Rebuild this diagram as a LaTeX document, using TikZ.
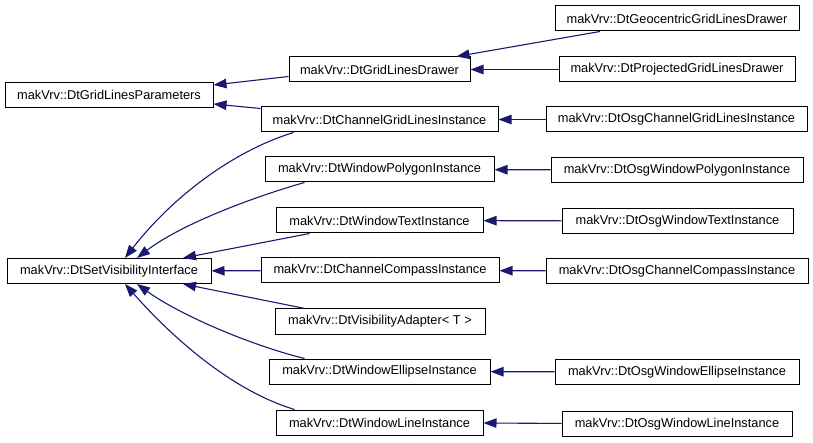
\documentclass[tikz,border=0pt]{standalone}
\usepackage{fontspec}
\setmainfont{Liberation Sans}
\usetikzlibrary{arrows.meta, calc}
\definecolor{midnight}{HTML}{191970}
\tikzset{
  classnode/.style={draw=black, line width=1pt, fill=white, rectangle,
    minimum height=25pt, inner sep=0pt, font=\fontsize{12.8}{15}\selectfont},
  derive/.style={draw=midnight, line width=1.1pt,
    -{Triangle[length=13pt, width=9.5pt]}}
}
\newcommand{\classbox}[4]{%
  \node[classnode, minimum width=#3] (#1) at (#2) {#4};}

\begin{document}
\begin{tikzpicture}[x=1pt, y=-1pt]
  \useasboundingbox (0,0) rectangle (813,443);
  % base classes
  \classbox{par}{109,95}{208pt}{makVrv::DtGridLinesParameters}
  \classbox{vis}{109,271}{204pt}{makVrv::DtSetVisibilityInterface}
  % middle column
  \classbox{drw}{379.5,69.5}{181pt}{makVrv::DtGridLinesDrawer}
  \classbox{cgl}{379.5,119.5}{237pt}{makVrv::DtChannelGridLinesInstance}
  \classbox{wpo}{379.5,169.5}{229pt}{makVrv::DtWindowPolygonInstance}
  \classbox{wtx}{379.5,220.5}{207pt}{makVrv::DtWindowTextInstance}
  \classbox{ccp}{380,270.5}{238pt}{makVrv::DtChannelCompassInstance}
  \classbox{vad}{380,321.5}{210pt}{makVrv::DtVisibilityAdapter< T >}
  \classbox{wel}{379.5,371.5}{221pt}{makVrv::DtWindowEllipseInstance}
  \classbox{wln}{379.5,422.5}{207pt}{makVrv::DtWindowLineInstance}
  % right column
  \classbox{geo}{677,18.5}{244pt}{makVrv::DtGeocentricGridLinesDrawer}
  \classbox{prj}{677,69.5}{236pt}{makVrv::DtProjectedGridLinesDrawer}
  \classbox{ogl}{676.5,119.5}{261pt}{makVrv::DtOsgChannelGridLinesInstance}
  \classbox{owp}{677,170}{252pt}{makVrv::DtOsgWindowPolygonInstance}
  \classbox{owt}{677.5,221}{231pt}{makVrv::DtOsgWindowTextInstance}
  \classbox{occ}{677,271}{262pt}{makVrv::DtOsgChannelCompassInstance}
  \classbox{owe}{677,372}{244pt}{makVrv::DtOsgWindowEllipseInstance}
  \classbox{owl}{677,424}{230pt}{makVrv::DtOsgWindowLineInstance}
  % grid lines hierarchy
  \draw[derive] ($(drw.west)+(0,7)$) -- ($(par.east)+(0,-10)$);
  \draw[derive] ($(cgl.north west)+(0,2)$) -- ($(par.east)+(0,9)$);
  \draw[derive] ($(geo.south)+(-77,0)$) -- ($(drw.north)+(77,0)$);
  \draw[derive] (prj) -- (drw);
  % osg implementations
  \draw[derive] (ogl) -- (cgl);
  \draw[derive] (owp) -- (wpo);
  \draw[derive] (owt) -- (wtx);
  \draw[derive] (occ) -- (ccp);
  \draw[derive] (owe) -- (wel);
  \draw[derive] (owl) -- (wln);
  % visibility interface
  \draw[derive] ($(cgl.south)+(-86,0)$) .. controls (230,152) and (170,200) .. ($(vis.north)+(16,0)$);
  \draw[derive] ($(wpo.south)+(-75,0)$) .. controls (250,198) and (180,225) .. ($(vis.north)+(28,0)$);
  \draw[derive] ($(wtx.south)+(-70,0)$) -- ($(vis.north)+(74,0)$);
  \draw[derive] (ccp) -- (vis);
  \draw[derive] ($(vad.north)+(-75,0)$) -- ($(vis.south)+(74,0)$);
  \draw[derive] ($(wel.north)+(-75,0)$) .. controls (250,345) and (180,315) .. ($(vis.south)+(28,0)$);
  \draw[derive] ($(wln.north)+(-85,0)$) .. controls (230,390) and (170,335) .. ($(vis.south)+(16,0)$);
\end{tikzpicture}
\end{document}
